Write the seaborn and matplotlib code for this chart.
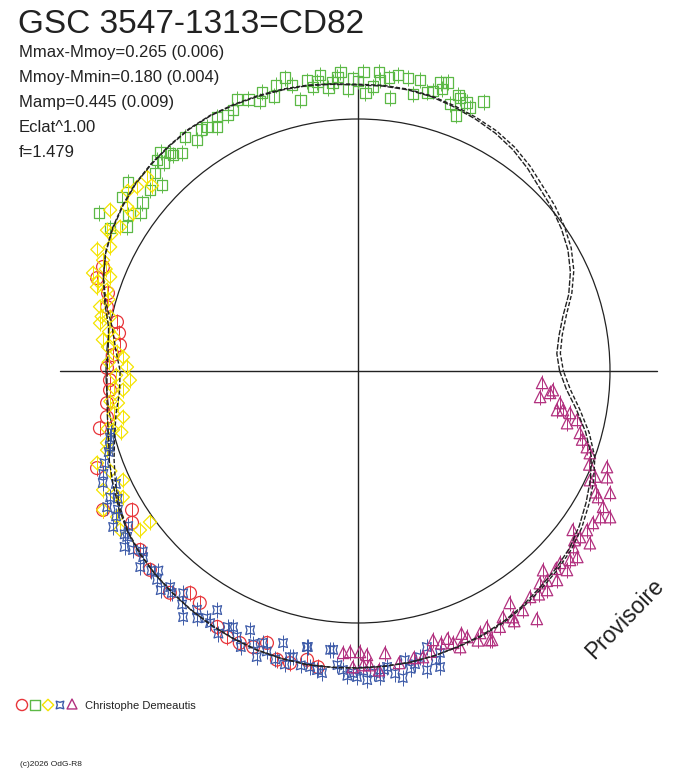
import numpy as np
import pandas as pd
import seaborn as sns
import matplotlib.pyplot as plt
from matplotlib.patches import Circle

# polar light curve: angle in degrees (counter-clockwise from the right), radius with 1 = mean level circle
model_ang = list(range(0, 365, 5))
model_a = [0.800, 0.792, 0.810, 0.842, 0.890, 0.930, 0.962, 0.985, 1.005, 1.022,
           1.048, 1.072, 1.090, 1.103, 1.115, 1.127, 1.133, 1.135, 1.135, 1.142,
           1.150, 1.155, 1.160, 1.165, 1.170, 1.170, 1.165, 1.160, 1.153, 1.140,
           1.125, 1.105, 1.075, 1.040, 1.005, 0.995, 0.996, 1.000, 1.010, 1.025,
           1.050, 1.072, 1.095, 1.115, 1.130, 1.140, 1.148, 1.157, 1.165, 1.172,
           1.178, 1.181, 1.183, 1.181, 1.179, 1.177, 1.175, 1.170, 1.163, 1.158,
           1.150, 1.138, 1.122, 1.110, 1.095, 1.072, 1.045, 1.018, 0.985, 0.935,
           0.880, 0.830, 0.800]
model_b = [0.815, 0.806, 0.823, 0.856, 0.903, 0.945, 0.977, 1.000, 1.020, 1.037,
           1.062, 1.084, 1.100, 1.110, 1.120, 1.130, 1.136, 1.138, 1.138, 1.144,
           1.152, 1.158, 1.163, 1.167, 1.172, 1.172, 1.167, 1.162, 1.155, 1.142,
           1.127, 1.106, 1.075, 1.035, 0.990, 0.965, 0.944, 0.950, 0.975, 1.000,
           1.030, 1.062, 1.090, 1.113, 1.128, 1.139, 1.147, 1.156, 1.164, 1.171,
           1.177, 1.180, 1.182, 1.180, 1.178, 1.176, 1.174, 1.170, 1.165, 1.161,
           1.154, 1.143, 1.130, 1.118, 1.104, 1.084, 1.058, 1.032, 1.000, 0.950,
           0.895, 0.846, 0.815]

green = [(65, 1.18), (67, 1.135), (68, 1.15), (69, 1.087), (69.5, 1.156), (70, 1.165),
         (71, 1.12), (72.7, 1.2), (73.4, 1.168), (74, 1.19), (75, 1.15), (76, 1.14),
         (78, 1.18), (78.8, 1.12), (80.3, 1.18), (82.3, 1.185), (83.3, 1.09), (84, 1.17),
         (85.7, 1.158), (86, 1.19), (87, 1.13), (88.5, 1.104), (89, 1.187), (90, 1.15),
         (91, 1.16), (92, 1.12), (93.4, 1.188), (94, 1.17), (95, 1.15), (96, 1.13),
         (97.3, 1.184), (98, 1.16), (99, 1.141), (100, 1.17), (102, 1.1), (103, 1.165),
         (104, 1.2), (106, 1.18), (107, 1.14), (109, 1.17), (110, 1.14), (112, 1.162),
         (114, 1.18), (115.6, 1.148), (117, 1.14), (119, 1.153), (120, 1.12), (121.7, 1.138),
         (123, 1.143), (124.9, 1.118), (126.5, 1.155), (128.9, 1.111), (130.6, 1.128),
         (130.8, 1.142), (132, 1.17), (133, 1.131), (133.6, 1.156), (135.7, 1.126),
         (136.5, 1.072), (139, 1.094), (140.6, 1.181), (142, 1.086), (143.6, 1.163),
         (144, 1.068), (145.9, 1.103), (148, 1.08), (148.6, 1.204), (150, 1.136)]

yellow = [(137.4, 1.137), (138, 1.10), (140.2, 1.141), (142, 1.16), (144.6, 1.124), (145, 1.09),
          (147, 1.173), (148.8, 1.104), (150.7, 1.142), (151, 1.12), (153.4, 1.1), (155, 1.141),
          (156.5, 1.103), (158, 1.08), (159.2, 1.052), (159.7, 1.121), (161, 1.09), (162.1, 1.047),
          (162.2, 1.088), (164, 1.03), (166, 1.055), (167.7, 1.007), (168, 1.04), (169.5, 1.041),
          (171, 1.0), (172, 0.981), (173, 1.02), (174.5, 0.997), (175.5, 0.96), (176.6, 0.934),
          (178, 0.99), (179, 0.917), (-179, 0.96), (-177.7, 0.906), (-176, 0.97), (-175.4, 0.936),
          (-173, 0.99), (-172.4, 0.961), (-170, 0.985), (-168.9, 0.95), (-167, 1.02), (-166.5, 1.0),
          (-165.5, 0.97), (-164, 1.036), (-162.5, 1.044), (-160.6, 1.098), (-158, 1.06),
          (-155.1, 1.028), (-155, 1.116), (-153, 1.08), (-151.8, 1.059), (-151.4, 1.152),
          (-148.8, 1.118), (-146.3, 1.135), (-144, 1.02), (-143.9, 1.071)]

red = [(157.8, 1.093), (160.4, 1.099), (162.7, 1.039), (165.7, 1.028), (168.5, 0.976),
       (171, 0.96), (173.8, 0.95), (176.3, 0.975), (179.3, 0.996), (-177.9, 0.985),
       (-175.6, 0.987), (-172.7, 1.004), (-169.6, 1.013), (-167.5, 1.049), (-159.6, 1.105),
       (-151.4, 1.152), (-148.4, 1.053), (-146.1, 1.08), (-140.6, 1.119), (-136.3, 1.142),
       (-130.3, 1.154), (-127.1, 1.105), (-124.3, 1.114), (-118.8, 1.159), (-116.2, 1.177),
       (-113.5, 1.177), (-110.8, 1.172), (-108.5, 1.138), (-105.7, 1.19), (-103.1, 1.19),
       (-100, 1.164), (-97.7, 1.186)]

blue = [(-166, 1.01), (-165, 1.019), (-163, 1.03), (-162, 1.04), (-160, 1.07), (-158, 1.09),
        (-156.3, 1.106), (-155, 1.06), (-153, 1.104), (-152, 1.08), (-151.5, 1.133), (-150, 1.1),
        (-149, 1.12), (-147.5, 1.152), (-146, 1.1), (-145, 1.13), (-144.3, 1.128), (-143, 1.16),
        (-141.5, 1.141), (-140, 1.115), (-139.1, 1.128), (-138, 1.163), (-136, 1.14), (-135, 1.12),
        (-133.9, 1.15), (-132, 1.17), (-131, 1.136), (-130, 1.15), (-128.2, 1.122), (-127, 1.16),
        (-125.4, 1.198), (-124, 1.143), (-123, 1.17), (-121.5, 1.15), (-120.5, 1.101), (-120.4, 1.16),
        (-118, 1.18), (-117, 1.14), (-116, 1.131), (-114.5, 1.159), (-113, 1.19), (-112.6, 1.114),
        (-111, 1.16), (-109.5, 1.204), (-109.3, 1.143), (-108, 1.17), (-106, 1.19), (-105.4, 1.12),
        (-104, 1.2), (-103.4, 1.167), (-102.8, 1.164), (-101, 1.19), (-100.5, 1.114), (-100.3, 1.113),
        (-99.2, 1.19), (-97.8, 1.198), (-96.8, 1.207), (-95.7, 1.112), (-95.1, 1.111), (-94, 1.17),
        (-92.9, 1.188), (-92, 1.21), (-91, 1.199), (-90.2, 1.214), (-89, 1.19), (-88.3, 1.227),
        (-87, 1.2), (-85.9, 1.218), (-85, 1.19), (-84.4, 1.18), (-83, 1.21), (-81.7, 1.231),
        (-80.8, 1.162), (-80, 1.2), (-79, 1.185), (-77.8, 1.162), (-77, 1.218), (-76, 1.129),
        (-75, 1.19), (-74.5, 1.219), (-73.8, 1.165)]

magenta = [(-93, 1.12), (-91.6, 1.115), (-91, 1.175), (-89.6, 1.115), (-89, 1.167), (-88.2, 1.127),
           (-87.7, 1.168), (-86, 1.19), (-84.5, 1.124), (-82, 1.17), (-79, 1.16), (-77.2, 1.164),
           (-75.5, 1.15), (-74.4, 1.108), (-73, 1.13), (-71.5, 1.12), (-70.7, 1.143), (-69.7, 1.168),
           (-68.5, 1.12), (-67.7, 1.141), (-66, 1.17), (-65, 1.147), (-63.9, 1.189), (-63.5, 1.192),
           (-63.3, 1.138), (-61, 1.16), (-59.5, 1.133), (-58, 1.17), (-57.8, 1.154), (-56.8, 1.1),
           (-55.4, 1.152), (-54.2, 1.213), (-52.7, 1.127), (-51, 1.14), (-49.4, 1.109), (-49.2, 1.148),
           (-48, 1.12), (-47.1, 1.079), (-46.4, 1.145), (-45, 1.11), (-43.6, 1.145), (-43.5, 1.106),
           (-41.7, 1.127), (-40.3, 1.141), (-39.3, 1.103), (-38, 1.09), (-36.8, 1.1), (-36.6, 1.146),
           (-36.5, 1.06), (-34.8, 1.106), (-32.9, 1.11), (-31.1, 1.122), (-30.1, 1.156), (-29, 1.112),
           (-27.7, 1.076), (-27, 1.06), (-25.8, 1.111), (-25.2, 1.017), (-24, 1.03), (-23.1, 1.074),
           (-22, 0.99), (-21.1, 1.059), (-19.5, 0.976), (-18.4, 0.957), (-17, 0.93), (-15.6, 0.914),
           (-14, 0.855), (-12.6, 0.89), (-11.2, 0.858), (-11.1, 0.805), (-10.8, 0.828), (-9, 0.812),
           (-8.1, 0.73), (-6.5, 0.767), (-5.6, 0.777), (-3.7, 0.732)]

title = "GSC 3547-1313=CD82"
stats = ["Mmax-Mmoy=0.265 (0.006)", "Mmoy-Mmin=0.180 (0.004)", "Mamp=0.445 (0.009)",
         "Eclat^1.00", "f=1.479"]

sns.set_theme(style='white')
plt.rcParams['font.family'] = ['Liberation Sans', 'DejaVu Sans']

W, H = 688, 768
CX, CY, PX = 358, 371, 252   # centre and mean-circle radius in pixels


def to_xy(ang, rad):
    a = np.radians(np.asarray(ang, dtype=float))
    r = np.asarray(rad, dtype=float)
    return pd.DataFrame({'x': r * np.cos(a), 'y': r * np.sin(a)})


def pix(px, py):
    return (px - CX) / PX, (CY - py) / PX


fig = plt.figure(figsize=(W / 100, H / 100), dpi=100)
ax = fig.add_axes([0, 0, 1, 1])
ax.set_xlim(-CX / PX, (W - CX) / PX)
ax.set_ylim(-(H - CY) / PX, CY / PX)
ax.axis('off')

ink = '#222222'
ax.add_patch(Circle((0, 0), 1.0, fill=False, ec=ink, lw=0.9, zorder=1))
ax.plot([-1.183, 1.187], [0, 0], color=ink, lw=1.0, zorder=1)
ax.plot([0, 0], [-1.175, 1.175], color=ink, lw=1.0, zorder=1)

series = [
    (red, '#e8353a', 'o', 85),
    (green, '#5cb946', 's', 58),
    (yellow, '#f4e400', 'D', 45),
    (blue, '#3c5aa8', (4, 1, 45), 80),
    (magenta, '#b2307f', '^', 68),
]
for pts, col, mk, size in series:
    d = to_xy([p[0] for p in pts], [p[1] for p in pts])
    sns.scatterplot(data=d, x='x', y='y', marker=mk, s=size, facecolor='none',
                    edgecolor=col, linewidth=0.9, ax=ax, zorder=3, legend=False)
    sns.scatterplot(data=d, x='x', y='y', marker='|', s=140, color=col,
                    linewidth=0.7, ax=ax, zorder=3, legend=False)

for rad, dash in [(model_a, (0, (4, 1.2))), (model_b, (2, (3, 1.5)))]:
    m = to_xy(model_ang, rad)
    sns.lineplot(data=m, x='x', y='y', sort=False, estimator=None, color=ink,
                 lw=1.0, linestyle=dash, ax=ax, zorder=4, legend=False)

# header texts
fig.text(18 / W, 1 - 33 / H, title, fontsize=24, color=ink, va='baseline')
for i, s in enumerate(stats):
    fig.text(19 / W, 1 - (57 + 25 * i) / H, s, fontsize=12, color=ink, va='baseline')

# observer key
for (px_, py_), (pts, col, mk, size) in zip([(22, 705), (35, 705), (48, 705), (60, 705), (72, 704)], series):
    kx, ky = pix(px_, py_)
    ax.scatter([kx], [ky], marker=mk, s=size * 0.75, facecolor='none', edgecolor=col,
               linewidth=1.0, zorder=5, clip_on=False)
fig.text(85 / W, 1 - 709 / H, "Christophe Demeautis", fontsize=8, color=ink, va='baseline')
fig.text(20 / W, 1 - 766 / H, "(c)2026 OdG-R8", fontsize=6, color=ink, va='baseline')

fig.text(625 / W, 1 - 619 / H, "Provisoire", fontsize=16.5, color=ink, rotation=46,
         ha='center', va='center', rotation_mode='anchor')

fig.savefig('out.png', dpi=100, facecolor='white')
